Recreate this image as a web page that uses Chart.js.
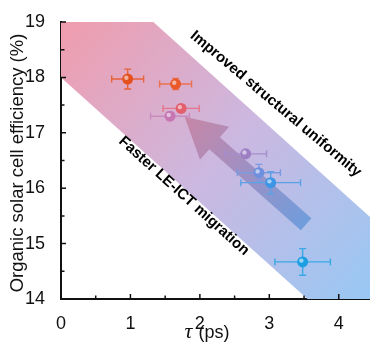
<!DOCTYPE html>
<html>
<head>
<meta charset="utf-8">
<script src="https://cdn.jsdelivr.net/npm/chart.js@4.4.1/dist/chart.umd.min.js"></script>
<style>
  html, body { margin: 0; padding: 0; background: #fff; }
  canvas { display: block; }
</style>
</head>
<body>
<canvas id="chart" width="370" height="345"></canvas>
<script>
// lifetime tau (ps) vs efficiency (%)
const tauVals = [0.96, 1.65, 1.73, 1.57, 2.66, 2.85, 3.02, 3.48];
const effVals = [17.97, 17.88, 17.44, 17.30, 16.62, 16.28, 16.10, 14.67];
const tauErr = [0.23, 0.23, 0.26, 0.28, 0.30, 0.31, 0.43, 0.40];
const effErr = [0.18, 0.10, 0.06, 0.07, 0.05, 0.15, 0.20, 0.24];
const pointColors = ['#e5501f', '#e85a2c', '#e45f6d', '#c576b3', '#9e7fc4', '#6f8fdf', '#3d95e6', '#1e9fe2'];
const barColors = ['#e8623a', '#ea7050', '#e5768a', '#c98cc0', '#a48ecd', '#7c9ae0', '#5aa1e6', '#3aa8e4'];

const xTicks = [0, 1, 2, 3, 4];
const yTicks = [14, 15, 16, 17, 18, 19];

// shaded band corners (tau, eff)
const bandTau = [0, 1.33, 4.45, 4.45, 3.55, 0];
const bandEff = [19, 19, 15.48, 14, 14, 18];
// arrow from tail to tip (tau, eff)
const arrowTau = [3.53, 1.78];
const arrowEff = [15.35, 17.29];

const decor = {
  id: 'decor',
  beforeDatasetsDraw(chart) {
    const { ctx, chartArea: a, scales: { x, y } } = chart;
    ctx.save();
    ctx.beginPath();
    ctx.rect(a.left, a.top, a.right - a.left, a.bottom - a.top);
    ctx.clip();
    // band
    const g = ctx.createLinearGradient(a.left, a.top, a.right, a.bottom);
    g.addColorStop(0, 'rgb(240,156,173)');
    g.addColorStop(0.5, 'rgb(204,184,224)');
    g.addColorStop(1, 'rgb(152,200,244)');
    ctx.fillStyle = g;
    ctx.beginPath();
    bandTau.forEach((t, i) => {
      const px = x.getPixelForValue(t), py = y.getPixelForValue(bandEff[i]);
      i ? ctx.lineTo(px, py) : ctx.moveTo(px, py);
    });
    ctx.closePath();
    ctx.fill();
    // arrow
    const x0 = x.getPixelForValue(arrowTau[0]), y0 = y.getPixelForValue(arrowEff[0]);
    const x1 = x.getPixelForValue(arrowTau[1]), y1 = y.getPixelForValue(arrowEff[1]);
    const ang = Math.atan2(y1 - y0, x1 - x0);
    const len = Math.hypot(x1 - x0, y1 - y0);
    const headL = 40, headW = 22, shaftW = 8;
    ctx.translate(x0, y0);
    ctx.rotate(ang);
    const ag = ctx.createLinearGradient(0, 0, len, 0);
    ag.addColorStop(0, 'rgba(90,145,215,0.75)');
    ag.addColorStop(0.5, 'rgba(145,130,185,0.75)');
    ag.addColorStop(1, 'rgba(195,120,150,0.75)');
    ctx.fillStyle = ag;
    ctx.beginPath();
    ctx.moveTo(0, -shaftW);
    ctx.lineTo(len - headL, -shaftW);
    ctx.lineTo(len - headL, -headW);
    ctx.lineTo(len, 0);
    ctx.lineTo(len - headL, headW);
    ctx.lineTo(len - headL, shaftW);
    ctx.lineTo(0, shaftW);
    ctx.closePath();
    ctx.fill();
    ctx.restore();

    // error bars
    ctx.save();
    ctx.lineWidth = 1.4;
    tauVals.forEach((t, i) => {
      const px = x.getPixelForValue(t), py = y.getPixelForValue(effVals[i]);
      const xl = x.getPixelForValue(t - tauErr[i]), xr = x.getPixelForValue(t + tauErr[i]);
      const yt = y.getPixelForValue(effVals[i] + effErr[i]), yb = y.getPixelForValue(effVals[i] - effErr[i]);
      ctx.strokeStyle = barColors[i];
      ctx.beginPath();
      ctx.moveTo(xl, py); ctx.lineTo(xr, py);
      ctx.moveTo(xl, py - 3.5); ctx.lineTo(xl, py + 3.5);
      ctx.moveTo(xr, py - 3.5); ctx.lineTo(xr, py + 3.5);
      ctx.moveTo(px, yt); ctx.lineTo(px, yb);
      ctx.moveTo(px - 3.5, yt); ctx.lineTo(px + 3.5, yt);
      ctx.moveTo(px - 3.5, yb); ctx.lineTo(px + 3.5, yb);
      ctx.stroke();
    });
    ctx.restore();
  },
  afterDatasetsDraw(chart) {
    const { ctx, scales: { x, y } } = chart;
    ctx.save();
    // glossy highlight on points
    tauVals.forEach((t, i) => {
      const px = x.getPixelForValue(t), py = y.getPixelForValue(effVals[i]);
      ctx.fillStyle = 'rgba(255,255,255,0.55)';
      ctx.beginPath();
      ctx.arc(px - 1.3, py - 1.3, 2.2, 0, Math.PI * 2);
      ctx.fill();
    });
    // inward ticks
    const area = chart.chartArea;
    ctx.strokeStyle = '#111';
    ctx.lineWidth = 1.5;
    ctx.beginPath();
    for (let v = 0; v <= 4.0001; v += 0.5) {
      const px = x.getPixelForValue(v);
      const l = Number.isInteger(v) ? 5 : 3.5;
      ctx.moveTo(px, area.bottom); ctx.lineTo(px, area.bottom - l);
    }
    for (let v = 14; v <= 19.0001; v += 0.5) {
      const py = y.getPixelForValue(v);
      const l = Number.isInteger(v) ? 5 : 3.5;
      ctx.moveTo(area.left, py); ctx.lineTo(area.left + l, py);
    }
    ctx.stroke();
    // annotations
    ctx.fillStyle = '#000';
    ctx.font = 'bold 15px "Liberation Sans", Arial, sans-serif';
    ctx.textAlign = 'center';
    ctx.textBaseline = 'middle';
    ctx.save();
    ctx.translate(x.getPixelForValue(3.05) + 3, y.getPixelForValue(17.52));
    ctx.rotate(40 * Math.PI / 180);
    ctx.fillText('Improved structural uniformity', 0, 0);
    ctx.restore();
    ctx.save();
    ctx.translate(x.getPixelForValue(1.74) + 2, y.getPixelForValue(15.86));
    ctx.rotate(42 * Math.PI / 180);
    ctx.fillText('Faster LE-ICT migration', 0, 0);
    ctx.restore();
    // axis titles
    ctx.save();
    ctx.translate(18, 163);
    ctx.rotate(-Math.PI / 2);
    ctx.font = '18.5px "Liberation Sans", Arial, sans-serif';
    ctx.fillStyle = '#111';
    ctx.fillText('Organic solar cell efficiency (%)', 0, 0);
    ctx.restore();
    ctx.textAlign = 'left';
    ctx.textBaseline = 'alphabetic';
    ctx.fillStyle = '#111';
    ctx.font = 'italic 22px "Liberation Serif", serif';
    const tw = ctx.measureText('\u03c4').width;
    ctx.font = '18px "Liberation Sans", Arial, sans-serif';
    const pw = ctx.measureText('(ps)').width;
    const gap = 6;
    const sx = 207 - (tw + pw + gap) / 2;
    ctx.font = 'italic 22px "Liberation Serif", serif';
    ctx.fillText('\u03c4', sx, 338);
    ctx.font = '18px "Liberation Sans", Arial, sans-serif';
    ctx.fillText('(ps)', sx + tw + gap, 338);
    ctx.restore();
  }
};

new Chart(document.getElementById('chart'), {
  type: 'scatter',
  data: {
    datasets: [{
      data: tauVals.map((t, i) => ({ x: t, y: effVals[i] })),
      pointRadius: 5.5,
      pointBorderWidth: 0,
      pointBackgroundColor: pointColors
    }]
  },
  options: {
    responsive: false,
    animation: false,
    devicePixelRatio: 1,
    layout: { autoPadding: false, padding: { top: 22, right: 0, left: 0, bottom: 0 } },
    plugins: { legend: { display: false }, tooltip: { enabled: false } },
    scales: {
      x: {
        type: 'linear', min: 0, max: 4.45,
        afterBuildTicks: s => { s.ticks = xTicks.map(v => ({ value: v })); },
        ticks: { font: { size: 18, family: '"Liberation Sans", Arial' }, color: '#111', padding: 6, maxRotation: 0 },
        grid: { display: false },
        border: { color: '#111', width: 2 },
        afterFit: s => { s.height = 46; s.paddingRight = 0; s.paddingLeft = 0; }
      },
      y: {
        min: 14, max: 19,
        afterBuildTicks: s => { s.ticks = yTicks.map(v => ({ value: v })); },
        ticks: { font: { size: 18, family: '"Liberation Sans", Arial' }, color: '#111', padding: 8 },
        grid: { display: false },
        border: { color: '#111', width: 2 },
        afterFit: s => { s.width = 61; s.paddingTop = 0; s.paddingBottom = 0; }
      }
    }
  },
  plugins: [decor]
});
</script>
</body>
</html>
